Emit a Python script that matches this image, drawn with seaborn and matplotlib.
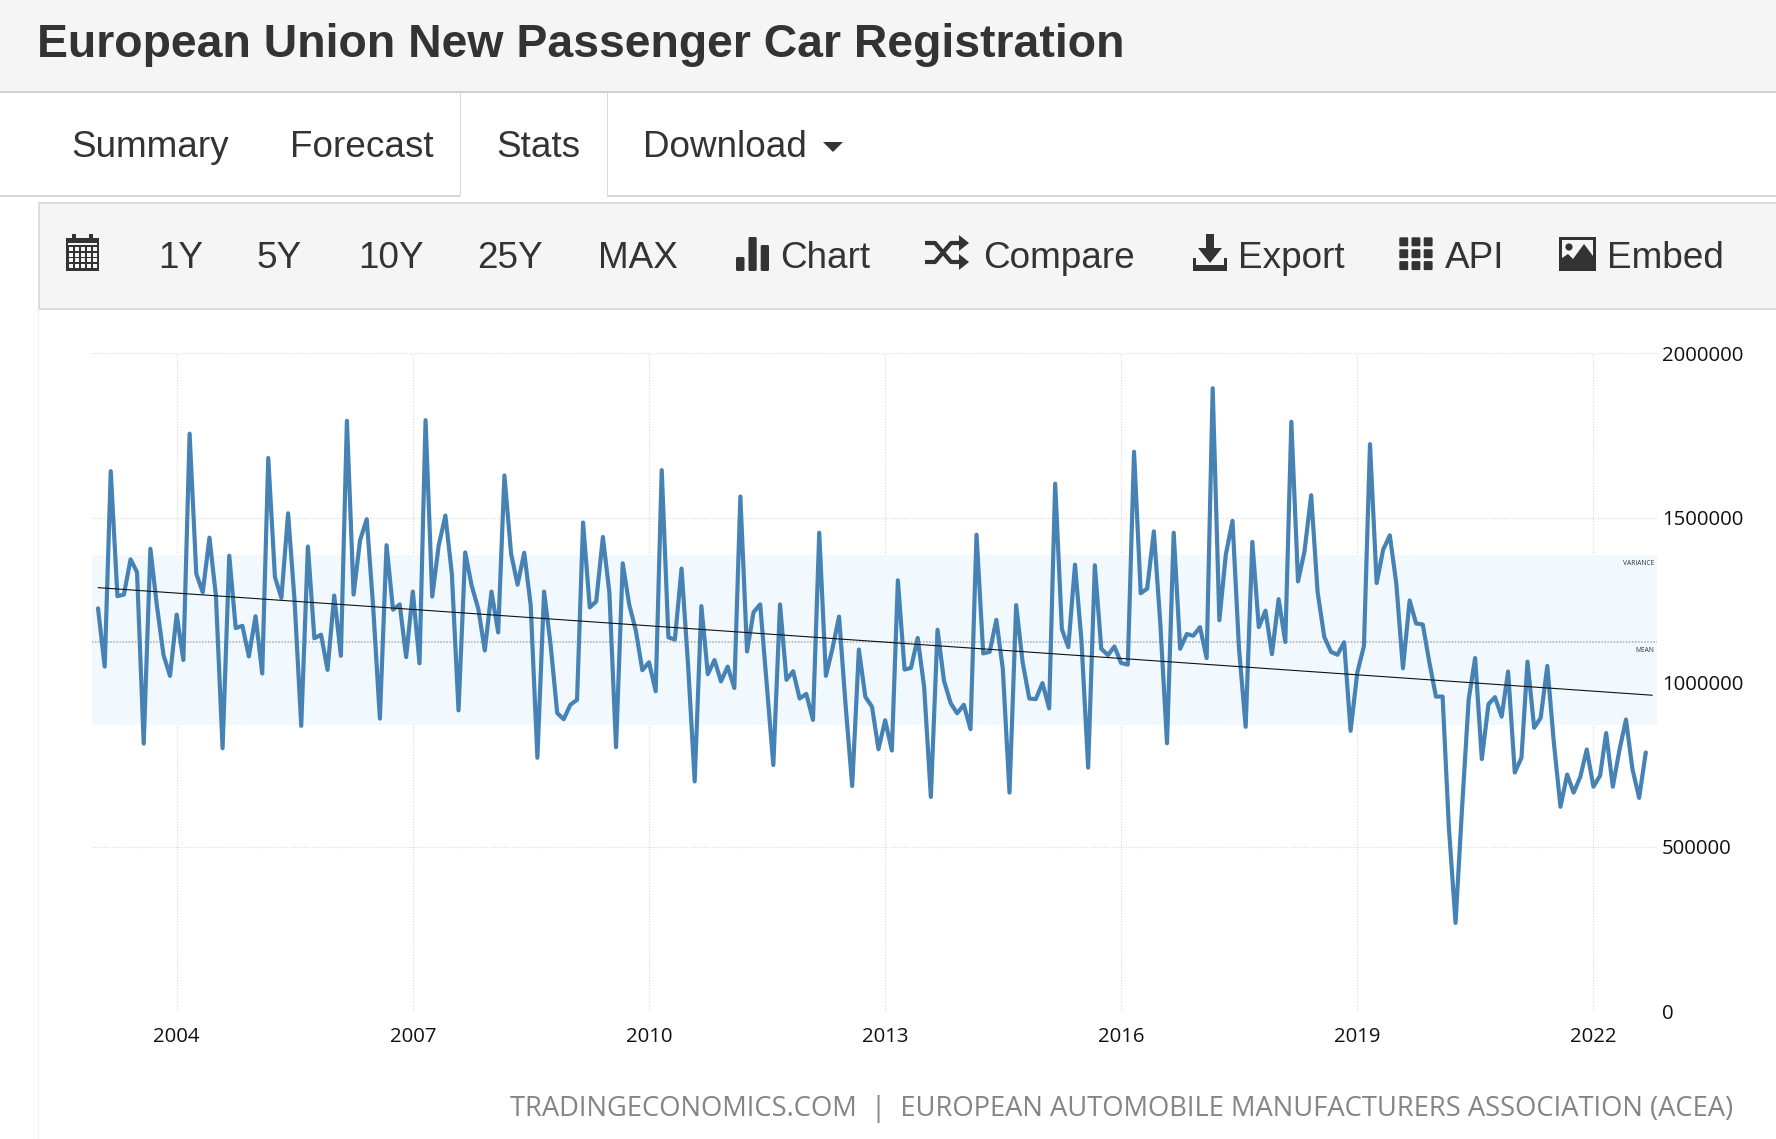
import matplotlib
matplotlib.use('Agg')
import matplotlib.pyplot as plt
from matplotlib.patches import Rectangle, Polygon, FancyBboxPatch, Circle
import seaborn as sns
import pandas as pd
import numpy as np

# monthly registrations, Jan 2003 - Sep 2022
start_month = '2003-01-01'
registrations = [
    1225, 1048, 1642, 1262, 1267, 1374, 1335, 814, 1406, 1234, 1083, 1020,
    1206, 1068, 1756, 1330, 1274, 1440, 1264, 800, 1385, 1165, 1172, 1079,
    1201, 1027, 1682, 1320, 1257, 1514, 1249, 868, 1413, 1134, 1145, 1038,
    1264, 1081, 1795, 1267, 1432, 1496, 1228, 890, 1417, 1221, 1237, 1077,
    1276, 1058, 1797, 1261, 1416, 1507, 1330, 915, 1395, 1294, 1223, 1097,
    1276, 1152, 1629, 1391, 1297, 1394, 1234, 771, 1276, 1117, 907, 888,
    932, 947, 1486, 1228, 1246, 1442, 1274, 803, 1362, 1237, 1157, 1037,
    1061, 973, 1645, 1137, 1130, 1346, 1056, 699, 1232, 1025, 1068, 1003,
    1048, 983, 1565, 1094, 1213, 1237, 995, 749, 1237, 1008, 1034, 951,
    965, 886, 1455, 1020, 1102, 1200, 934, 685, 1100, 956, 926, 797,
    885, 793, 1310, 1039, 1044, 1135, 985, 652, 1160, 1005, 937, 906,
    932, 858, 1449, 1088, 1093, 1190, 1041, 665, 1235, 1061, 951, 949,
    998, 921, 1604, 1162, 1107, 1358, 1127, 741, 1356, 1102, 1083, 1109,
    1059, 1054, 1701, 1271, 1285, 1459, 1178, 815, 1455, 1102, 1147, 1142,
    1168, 1074, 1894, 1189, 1389, 1491, 1104, 865, 1427, 1168, 1218, 1086,
    1253, 1123, 1792, 1307, 1398, 1569, 1274, 1138, 1093, 1084, 1122, 853,
    1029, 1111, 1724, 1302, 1403, 1447, 1301, 1043, 1249, 1179, 1176, 1063,
    957, 957, 561, 269, 615, 948, 1074, 767, 934, 955, 896, 1033,
    726, 771, 1063, 862, 892, 1050, 819, 622, 720, 665, 713, 796,
    683, 717, 846, 683, 792, 887, 737, 649, 787,
]
trend_dates = ['2003-01-01', '2022-10-01']
trend_values = [1288000, 961000]
mean_value = 1124000
variance_low = 869000
variance_high = 1388000
year_ticks = [2004, 2007, 2010, 2013, 2016, 2019, 2022]
value_ticks = [0, 500000, 1000000, 1500000, 2000000]
source_text = 'TRADINGECONOMICS.COM  |  EUROPEAN AUTOMOBILE MANUFACTURERS ASSOCIATION (ACEA)'

W, H = 1776, 1139

sns.set_theme(style='white')
plt.rcParams['font.family'] = ['Open Sans', 'DejaVu Sans']

df = pd.DataFrame({
    'fecha': pd.date_range(start_month, periods=len(registrations), freq='MS'),
    'valor': np.array(registrations) * 1000,
})
df_trend = pd.DataFrame({'fecha': pd.to_datetime(trend_dates), 'valor': trend_values})

fig = plt.figure(figsize=(W / 100, H / 100), dpi=100, facecolor='white')

# page chrome lives on a full-figure axes in pixel units
page = fig.add_axes([0, 0, 1, 1], zorder=0)
page.set_xlim(0, W)
page.set_ylim(H, 0)
page.axis('off')


def caja(x0, y0, x1, y1, color, zorder=1):
    page.add_patch(Rectangle((x0, y0), x1 - x0, y1 - y0, fc=color, ec='none', zorder=zorder))


BORDE = '#cfcfcf'
GRIS = '#f5f5f5'
TEXTO = '#333333'

caja(0, 0, W, 91, GRIS)
caja(0, 91, W, 93, BORDE)
caja(0, 195, 460, 197, '#d8d8d8')
caja(607, 195, W, 197, '#d8d8d8')
caja(459.5, 93, 461, 196, '#d8d8d8')
caja(606.5, 93, 608, 196, '#d8d8d8')
caja(38, 203, W, 309, GRIS)
caja(38, 202, W, 204, '#dddddd')
caja(38, 308, W, 310, '#dddddd')
caja(38, 202, 40, 310, '#dddddd')
caja(38, 310, 39, H, '#f2f2f2')

sans = 'Liberation Sans'
page.text(37, 45, 'European Union New Passenger Car Registration', family=sans, weight='bold',
          fontsize=33.4, color=TEXTO, va='center', ha='left')
for etiqueta, x in [('Summary', 71), ('Forecast', 290), ('Stats', 496), ('Download', 643)]:
    page.text(x, 147.5, etiqueta, family=sans, fontsize=26.6, color=TEXTO, va='center', ha='left')
page.add_patch(Polygon([(823, 142), (843, 142), (833, 152)], fc=TEXTO, ec='none', zorder=3))
for etiqueta, x in [('1Y', 158), ('5Y', 257), ('10Y', 358), ('25Y', 477), ('MAX', 598),
                    ('Chart', 780), ('Compare', 983), ('Export', 1238), ('API', 1445), ('Embed', 1607)]:
    page.text(x, 258, etiqueta, family=sans, fontsize=26.6, color=TEXTO, va='center', ha='left')

OSCURO = '#333333'
# calendario
caja(66, 238, 99, 271, OSCURO, 3)
caja(72, 234, 76, 241, OSCURO, 3)
caja(89, 234, 93, 241, OSCURO, 3)
caja(68, 243, 97, 245, GRIS, 4)
for fila in range(4):
    for col in range(5):
        caja(68.5 + col * 6, 247 + fila * 5.7, 72.5 + col * 6, 251 + fila * 5.7, GRIS, 4)
# barras
for x0, x1, y0 in [(736, 744.5, 257), (748.5, 756.7, 237), (760.7, 769, 245)]:
    page.add_patch(FancyBboxPatch((x0 + 1.5, y0 + 1.5), x1 - x0 - 3, 271 - y0 - 3,
                                  boxstyle='round,pad=1.5', fc=OSCURO, ec='none', zorder=3))
# shuffle
page.plot([925, 935, 951, 960], [243, 243, 262, 262], color=OSCURO, lw=3, solid_capstyle='butt', zorder=3)
page.plot([925, 935, 951, 960], [262, 262, 243, 243], color=OSCURO, lw=3, solid_capstyle='butt', zorder=3)
page.add_patch(Polygon([(959, 235), (969, 243), (959, 251)], fc=OSCURO, ec='none', zorder=3))
page.add_patch(Polygon([(959, 254), (969, 262), (959, 270)], fc=OSCURO, ec='none', zorder=3))
# export
caja(1206, 234, 1214, 250, OSCURO, 3)
page.add_patch(Polygon([(1198, 248), (1222, 248), (1210, 263)], fc=OSCURO, ec='none', zorder=3))
caja(1193, 258, 1196, 271, OSCURO, 3)
caja(1224, 258, 1227, 271, OSCURO, 3)
caja(1193, 264.5, 1227, 271, OSCURO, 3)
# api
for fila in range(3):
    for col in range(3):
        page.add_patch(FancyBboxPatch((1400.5 + col * 12.2, 238.5 + fila * 11.9), 6.5, 6.6,
                                      boxstyle='round,pad=1.2', fc=OSCURO, ec='none', zorder=3))
# embed
caja(1559, 237, 1596, 271, OSCURO, 3)
caja(1562, 240, 1593, 262, GRIS, 4)
page.add_patch(Circle((1569, 247), 3.6, fc=OSCURO, ec='none', zorder=5))
page.add_patch(Polygon([(1562, 265), (1562, 258), (1568, 254), (1573, 259), (1584, 244), (1593, 256), (1593, 265)],
                       fc=OSCURO, ec='none', zorder=5))

page.text(510, 1109, source_text, fontsize=19.7, color='#858585', va='center', ha='left')

# chart
ax_left, ax_right, ax_top, ax_bottom = 92, 1657, 353.4, 1011.4
ax = fig.add_axes([ax_left / W, 1 - ax_bottom / H, (ax_right - ax_left) / W, (ax_bottom - ax_top) / H], zorder=2)
ax.patch.set_alpha(0)

ax.axhspan(variance_low, variance_high, color='#f1f9ff', lw=0, zorder=1)
ax.axhline(mean_value, color='#a9a9a9', lw=1.1, ls=(0, (1, 1)), zorder=2)
sns.lineplot(data=df, x='fecha', y='valor', ax=ax, color='#4682b4', lw=3.0, zorder=3, errorbar=None)
sns.lineplot(data=df_trend, x='fecha', y='valor', ax=ax, color='#111111', lw=0.8, zorder=4, errorbar=None)

ax.set_xlim(pd.Timestamp('2004-01-01') - pd.Timedelta(days=393), pd.Timestamp('2022-01-01') + pd.Timedelta(days=295))
ax.set_ylim(0, 2000000)
ax.set_xticks([pd.Timestamp(f'{y}-01-01') for y in year_ticks])
ax.set_xticklabels([str(y) for y in year_ticks])
ax.set_yticks(value_ticks)
ax.set_yticklabels([str(v) for v in value_ticks])
ax.yaxis.tick_right()
ax.tick_params(axis='both', length=0, labelsize=14.7, colors='#111111')
ax.tick_params(axis='x', pad=11)
ax.tick_params(axis='y', pad=3.5)
ax.grid(True, color='#d9d9d9', lw=0.8, ls=(0, (1, 1.5)), zorder=0)
ax.set_axisbelow(True)
ax.set_xlabel('')
ax.set_ylabel('')
sns.despine(ax=ax, left=True, right=True, top=True, bottom=True)

ax.text(0.9985, variance_high - 26000, 'VARIANCE', transform=ax.get_yaxis_transform(), fontsize=4.8,
        ha='right', va='center', color='#333333')
ax.text(0.9985, mean_value - 26000, 'MEAN', transform=ax.get_yaxis_transform(), fontsize=4.8,
        ha='right', va='center', color='#333333')

fig.savefig('out.png', dpi=100)
